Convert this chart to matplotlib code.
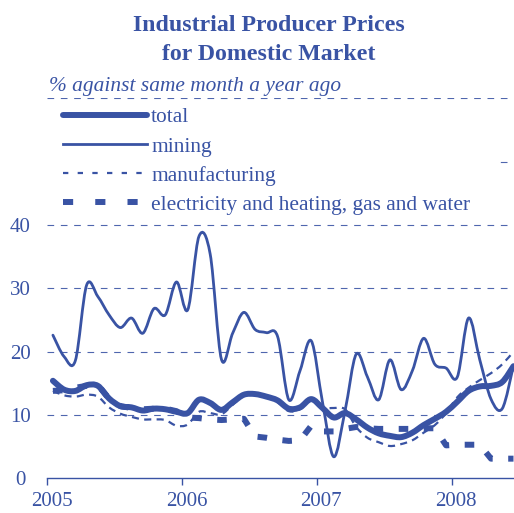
import numpy as np
import matplotlib
matplotlib.use('Agg')
import matplotlib.pyplot as plt
from matplotlib.path import Path
from matplotlib.patches import PathPatch, Rectangle
from matplotlib.lines import Line2D
import matplotlib.transforms as mtransforms

plt.rcParams['font.family'] = ['Liberation Serif', 'DejaVu Serif']

# ---------------- data (monthly, Jan 2005 - Jun 2008) ----------------
year_labels = ['2005', '2006', '2007', '2008']
y_ticks = [0, 10, 20, 30, 40]
grid_levels = [10, 20, 30, 40, 50, 60]

total = [15.4, 14.0, 13.8, 14.7, 14.6, 12.6, 11.4, 11.2, 10.7, 11.0, 10.9, 10.5,
         10.3, 12.4, 11.9, 10.8, 12.0, 13.2, 13.3, 12.9, 12.3, 11.0, 11.2, 12.5,
         11.1, 9.6, 10.3, 9.3, 8.0, 7.1, 6.7, 6.5, 7.2, 8.4, 9.4, 10.5,
         12.1, 13.8, 14.5, 14.6, 15.2, 17.7]
mining = [22.6, 19.2, 18.6, 30.5, 28.7, 25.8, 23.8, 25.3, 22.9, 26.8, 25.8, 31.0,
          26.6, 38.2, 35.4, 18.8, 22.9, 26.2, 23.5, 23.0, 22.4, 12.4, 17.0, 21.7,
          12.0, 3.4, 10.6, 19.6, 16.0, 12.4, 18.7, 14.0, 17.0, 22.1, 18.0, 17.4,
          16.0, 25.3, 18.7, 12.5, 11.0, 17.8]
manufacturing = [13.8, 13.1, 12.9, 13.2, 12.9, 11.2, 10.2, 9.7, 9.3, 9.3, 9.2, 8.3,
                 8.5, 10.5, 10.3, 10.1, 11.6, 13.0, 13.2, 12.8, 12.0, 10.6, 10.9, 12.3,
                 11.1, 11.1, 10.9, 8.1, 6.4, 5.7, 5.1, 5.4, 6.0, 7.2, 8.4, 10.3,
                 12.8, 14.3, 15.5, 16.6, 18.0, 20.0]
electricity = [13.8, 13.9, 14.3, 14.6, 14.7, 12.6, 11.4, 11.1, 10.9, 11.0, 11.0, 10.6,
               9.6, 9.5, 9.3, 9.2, 9.3, 9.4, 6.6, 6.4, 6.1, 5.9, 6.0, 8.3,
               7.4, 7.4, 7.8, 8.1, 7.9, 7.8, 7.8, 7.8, 7.8, 7.9, 7.9, 5.2,
               5.3, 5.3, 5.3, 3.1, 3.1, 3.1]

labels = ['total', 'mining', 'manufacturing', 'electricity and heating, gas and water']

BLUE = '#3953A4'
GRID = '#4F66AE'

x = np.arange(len(total)) + 0.5  # month centres


def smooth_path(xs, ys):
    """Catmull-Rom style smoothed path through the data points (Bezier)."""
    xs = np.asarray(xs, float)
    ys = np.asarray(ys, float)
    pts = np.column_stack([xs, ys])
    n = len(pts)
    verts = [pts[0]]
    codes = [Path.MOVETO]
    for i in range(n - 1):
        p0 = pts[i - 1] if i > 0 else pts[i]
        p1 = pts[i]
        p2 = pts[i + 1]
        p3 = pts[i + 2] if i + 2 < n else pts[i + 1]
        c1 = p1 + (p2 - p0) / 6.0
        c2 = p2 - (p3 - p1) / 6.0
        verts += [c1, c2, p2]
        codes += [Path.CURVE4] * 3
    return Path(verts, codes)


fig = plt.figure(figsize=(5.14, 5.13), dpi=100)
W, H = 514, 513
left_px, right_px = 47.3, 514
bottom_px, top_px = 478.3, 98.3
ax = fig.add_axes([left_px / W, 1 - bottom_px / H,
                   (right_px - left_px) / W, (bottom_px - top_px) / H])
ax.set_xlim(0, (right_px - left_px) / (134.8 / 12))
ax.set_ylim(0, 60)

for g in grid_levels:
    ax.axhline(g, color=GRID, lw=0.8, linestyle=(0, (6, 6)), zorder=0.5)

# lines
lw_thick = 4.3
lw_thin = 2.0
p_total = PathPatch(smooth_path(x, total), fill=False, edgecolor=BLUE,
                    lw=lw_thick, capstyle='round', joinstyle='round', zorder=3)
p_mining = PathPatch(smooth_path(x, mining), fill=False, edgecolor=BLUE,
                     lw=lw_thin, capstyle='round', joinstyle='round', zorder=3.5)
p_manu = PathPatch(smooth_path(x, manufacturing), fill=False, edgecolor=BLUE,
                   lw=1.6, linestyle=(0, (3.2, 2.4)), capstyle='butt', zorder=2.5)
ax.add_patch(p_manu)
ax.plot(x, electricity, color=BLUE, lw=lw_thick, linestyle=(0, (1.6, 2.6)),
        dash_capstyle='butt', zorder=2)
ax.add_patch(p_total)
ax.add_patch(p_mining)

# axes styling
for s in ['left', 'right', 'top']:
    ax.spines[s].set_visible(False)
ax.spines['bottom'].set_color(BLUE)
ax.spines['bottom'].set_linewidth(1.0)
ax.set_xticks([0, 12, 24, 36], year_labels)
ax.set_yticks(y_ticks, [str(v) for v in y_ticks])
ax.tick_params(axis='x', direction='out', length=5, width=1.0, color=BLUE,
               labelcolor=BLUE, labelsize=15, pad=5)
ax.tick_params(axis='y', length=0, labelcolor=BLUE, labelsize=15, pad=19.5)
for t in ax.get_yticklabels():
    t.set_horizontalalignment('center')
offset = mtransforms.ScaledTranslation(4.5 / 100, 0, fig.dpi_scale_trans)
for t in ax.get_xticklabels():
    t.set_transform(t.get_transform() + offset)

# white legend box hiding the upper gridlines
fig.patches.append(Rectangle((0, 1 - 218 / H), 497 / W, (218 - 104) / H,
                             transform=fig.transFigure, facecolor='white',
                             edgecolor='none', zorder=1))

handles = [
    Line2D([], [], color=BLUE, lw=lw_thick, solid_capstyle='round'),
    Line2D([], [], color=BLUE, lw=lw_thin),
    Line2D([], [], color=BLUE, lw=1.6, linestyle=(0, (2.4, 4.2)), dash_capstyle='butt'),
    Line2D([], [], color=BLUE, lw=lw_thick, linestyle=(0, (1.7, 3.7)), dash_capstyle='butt'),
]
leg = fig.legend(handles, labels, loc='upper left', bbox_to_anchor=(63 / W, 1 - 107.5 / H),
                 bbox_transform=fig.transFigure, frameon=False, fontsize=15.4,
                 handlelength=3.93, handletextpad=0.19, labelspacing=0.43,
                 borderpad=0, borderaxespad=0)
for t in leg.get_texts():
    t.set_color(BLUE)

fig.text(269 / W, 1 - 25.5 / H, 'Industrial Producer Prices', ha='center', va='center',
         fontsize=17.2, fontweight='bold', color=BLUE)
fig.text(269 / W, 1 - 54.5 / H, 'for Domestic Market', ha='center', va='center',
         fontsize=17.2, fontweight='bold', color=BLUE)
fig.text(49 / W, 1 - 87 / H, '% against same month a year ago', ha='left', va='center',
         fontsize=15.4, style='italic', color=BLUE)

fig.savefig('out.png', dpi=100)
